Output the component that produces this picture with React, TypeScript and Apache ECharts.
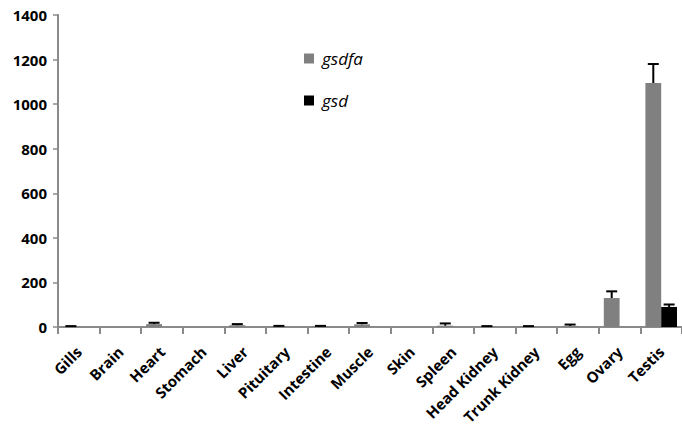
import React, { useEffect, useRef } from "react";
import * as echarts from "echarts";

const categories = ["Gills", "Brain", "Heart", "Stomach", "Liver", "Pituitary", "Intestine", "Muscle", "Skin", "Spleen", "Head Kidney", "Trunk Kidney", "Egg", "Ovary", "Testis"];
const gsdfaValues = [3, 0, 13, 0, 8, 4, 4, 12, 0, 6, 3, 3, 5, 130, 1095];
const gsdfaErrTop = [4, 0, 19, 0, 13, 5, 5, 18, 0, 16, 4, 4, 11, 160, 1180];
const gsdValues = [0, 0, 0, 0, 0, 0, 0, 0, 0, 0, 0, 0, 0, 0, 90];
const gsdErrTop = [0, 0, 0, 0, 0, 0, 0, 0, 0, 0, 0, 0, 0, 0, 101];
const yTicks = [0, 200, 400, 600, 800, 1000, 1200, 1400];

const GRAY = "#808080";
const BLACK = "#000000";
const FONT = "Open Sans";

function errorSeries(values: number[], tops: number[], sign: number) {
  return {
    type: "custom",
    silent: true,
    z: 5,
    renderItem: (params: any, api: any) => {
      const idx = api.value(0);
      const v = api.value(1);
      const t = api.value(2);
      if (t <= v) return null;
      const band = api.size([1, 0])[0];
      const base = api.coord([idx, v]);
      const top = api.coord([idx, t]);
      const cx = base[0] + sign * band * 0.19;
      const half = 5.5;
      return {
        type: "group",
        children: [
          { type: "line", shape: { x1: cx, y1: base[1], x2: cx, y2: top[1] }, style: { stroke: BLACK, lineWidth: 2 } },
          { type: "line", shape: { x1: cx - half, y1: top[1], x2: cx + half, y2: top[1] }, style: { stroke: BLACK, lineWidth: 2 } },
        ],
      };
    },
    data: values.map((v, i) => [i, v, tops[i]]),
  };
}

export default function App() {
  const ref = useRef<HTMLDivElement>(null);
  useEffect(() => {
    if (!ref.current) return;
    const chart = echarts.init(ref.current, undefined, { renderer: "svg" });
    chart.setOption({
      animation: false,
      grid: { left: 58, right: -6, top: 15, bottom: 109 },
      legend: {
        orient: "vertical",
        left: 299,
        top: 45,
        itemGap: 25,
        itemWidth: 10,
        itemHeight: 10,
        icon: "rect",
        data: ["gsdfa", "gsd"],
        textStyle: { fontFamily: FONT, fontStyle: "italic", fontSize: 17, color: "#000", padding: [0, 0, 0, 3] },
      },
      xAxis: {
        type: "category",
        data: categories,
        axisLine: { lineStyle: { color: "#8a8a8a", width: 2 } },
        axisTick: { show: true, length: 7, lineStyle: { color: "#8a8a8a", width: 2 } },
        axisLabel: {
          rotate: 45,
          interval: 0,
          fontFamily: FONT,
          fontWeight: "bold",
          fontSize: 15,
          color: "#000",
          margin: 22,
        },
      },
      yAxis: {
        type: "value",
        min: 0,
        max: yTicks[yTicks.length - 1],
        interval: 200,
        splitLine: { show: false },
        axisLine: { show: true, lineStyle: { color: "#8a8a8a", width: 2 } },
        axisTick: { show: true, length: 5, lineStyle: { color: "#8a8a8a", width: 1.5 } },
        axisLabel: {
          fontFamily: FONT,
          fontWeight: "bold",
          fontSize: 15,
          color: "#000",
          margin: 11,
          formatter: (v: number) => String(v),
        },
      },
      series: [
        {
          name: "gsdfa",
          type: "bar",
          data: gsdfaValues,
          itemStyle: { color: GRAY },
          barGap: "0%",
          barCategoryGap: "24%",
        },
        {
          name: "gsd",
          type: "bar",
          data: gsdValues,
          itemStyle: { color: BLACK },
          barGap: "0%",
          barCategoryGap: "24%",
        },
        errorSeries(gsdfaValues, gsdfaErrTop, -1),
        errorSeries(gsdValues, gsdErrTop, 1),
      ],
    });
    return () => chart.dispose();
  }, []);
  return <div ref={ref} style={{ width: 682, height: 436, position: "absolute", left: 0, top: 0, background: "#fff" }} />;
}
